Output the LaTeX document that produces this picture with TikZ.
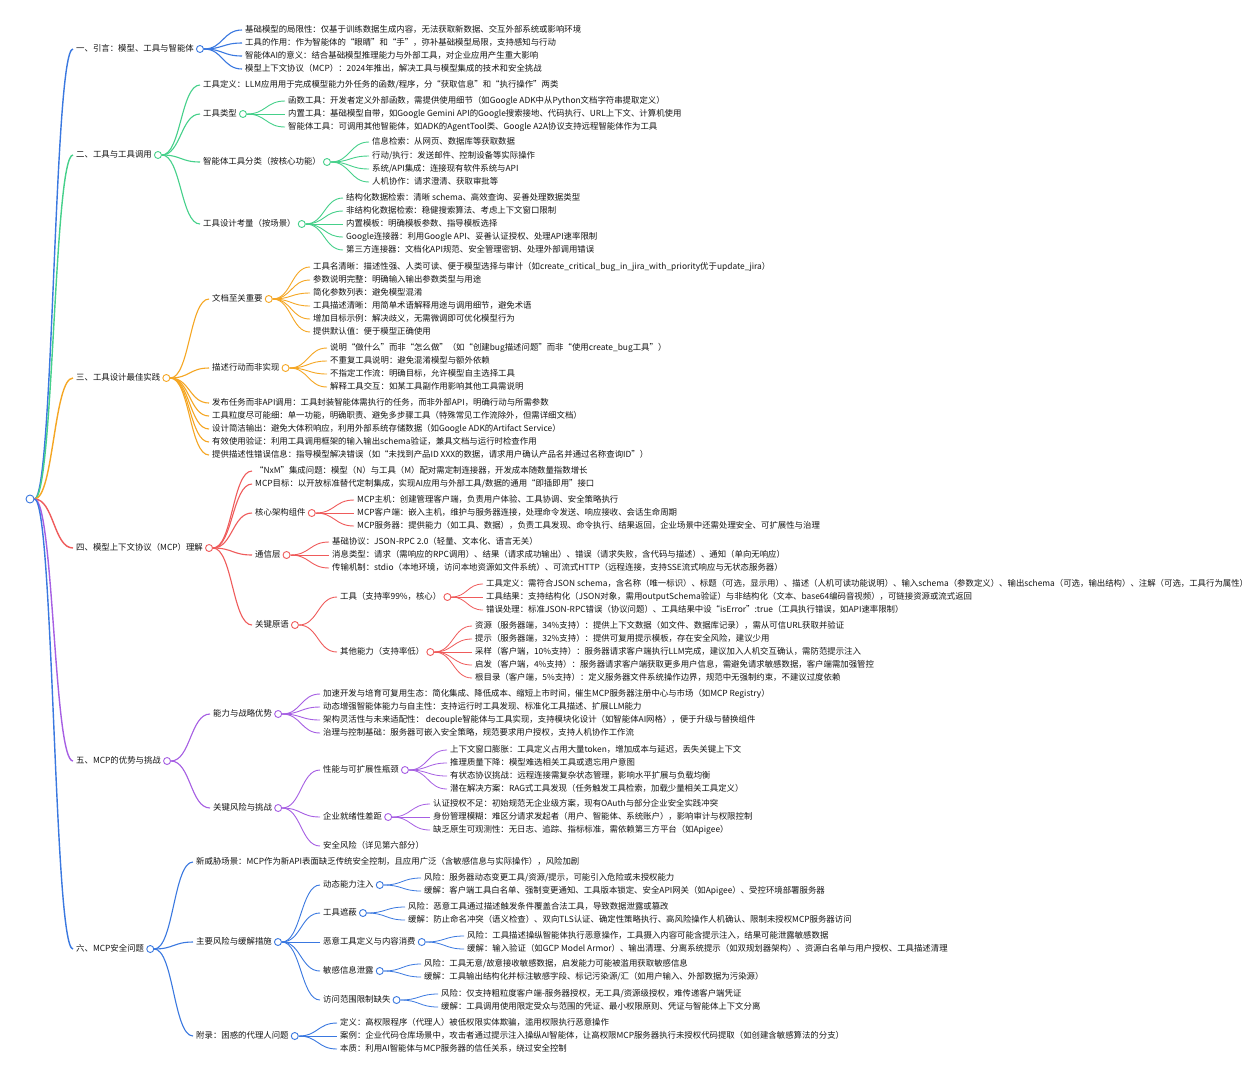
\documentclass[tikz,border=0pt]{standalone}
\usepackage{fontspec}
\setmainfont{Noto Sans CJK SC}
\usetikzlibrary{calc}
\definecolor{cA}{HTML}{3A78E0}
\definecolor{cB}{HTML}{45D08A}
\definecolor{cC}{HTML}{F5A623}
\definecolor{cD}{HTML}{EF5B5B}
\definecolor{cE}{HTML}{A65FE3}
\definecolor{cF}{HTML}{3A78E0}
\definecolor{txt}{HTML}{151515}
\newcommand\mapfont{\fontsize{8.4pt}{10pt}\selectfont}
\pgfdeclarelayer{bg}
\pgfsetlayers{bg,main}
\begin{document}
\begin{tikzpicture}[x=1pt,y=-1pt,
  t/.style={anchor=west, inner xsep=3pt, inner ysep=1pt, xshift=-3pt, text height=7pt, text depth=2.6pt, font=\mapfont, text=txt},
  dot/.style={circle, draw=#1, fill=white, line width=0.9pt, minimum size=7pt, inner sep=0pt, anchor=west, xshift=-1pt},
  hl/.style={to path={let \p1=(\tikztostart), \p2=(\tikztotarget) in .. controls ({0.5*\x1+0.5*\x2},\y1) and ({0.5*\x1+0.5*\x2},\y2) .. (\tikztotarget)}},
  l1/.style={hl, line width=1.4pt, draw=#1},
  l2/.style={hl, line width=1.1pt, draw=#1},
  l3/.style={hl, line width=0.9pt, draw=#1},
  l4/.style={hl, line width=0.8pt, draw=#1}]
\begin{pgfonlayer}{bg}
\fill[white] (0,0) rectangle (1258,1080);
\end{pgfonlayer}
\useasboundingbox (0,0) rectangle (1258,1080);

% root
\node[dot=cA, anchor=center, xshift=0pt, minimum size=8pt] (R) at (31,499) {};

% ---------- A ----------
\node[t] (A) at (76,49) {一、引言：模型、工具与智能体};
\node[dot=cA] (Ac) at (A.east) {};
\node[t] (A1) at (245,30) {基础模型的局限性：仅基于训练数据生成内容，无法获取新数据、交互外部系统或影响环境};
\node[t] (A2) at (245,43) {工具的作用：作为智能体的“眼睛”和“手”，弥补基础模型局限，支持感知与行动};
\node[t] (A3) at (245,56) {智能体AI的意义：结合基础模型推理能力与外部工具，对企业应用产生重大影响};
\node[t] (A4) at (245,69) {模型上下文协议（MCP）：2024年推出，解决工具与模型集成的技术和安全挑战};

% ---------- B ----------
\node[t] (B) at (76,155) {二、工具与工具调用};
\node[dot=cB] (Bc) at (B.east) {};
\node[t] (B1) at (203,85) {工具定义：LLM应用用于完成模型能力外任务的函数/程序，分“获取信息”和“执行操作”两类};
\node[t] (B2) at (203,114) {工具类型};
\node[dot=cB] (B2c) at (B2.east) {};
\node[t] (B21) at (288,101) {函数工具：开发者定义外部函数，需提供使用细节（如Google ADK中从Python文档字符串提取定义）};
\node[t] (B22) at (288,114) {内置工具：基础模型自带，如Google Gemini API的Google搜索接地、代码执行、URL上下文、计算机使用};
\node[t] (B23) at (288,127) {智能体工具：可调用其他智能体，如ADK的AgentTool类、Google A2A协议支持远程智能体作为工具};
\node[t] (B3) at (203,162) {智能体工具分类（按核心功能）};
\node[dot=cB] (B3c) at (B3.east) {};
\node[t] (B31) at (372,142) {信息检索：从网页、数据库等获取数据};
\node[t] (B32) at (372,156) {行动/执行：发送邮件、控制设备等实际操作};
\node[t] (B33) at (372,169) {系统/API集成：连接现有软件系统与API};
\node[t] (B34) at (372,182) {人机协作：请求澄清、获取审批等};
\node[t] (B4) at (203,224) {工具设计考量（按场景）};
\node[dot=cB] (B4c) at (B4.east) {};
\node[t] (B41) at (346,198) {结构化数据检索：清晰 schema、高效查询、妥善处理数据类型};
\node[t] (B42) at (346,211) {非结构化数据检索：稳健搜索算法、考虑上下文窗口限制};
\node[t] (B43) at (346,224) {内置模板：明确模板参数、指导模板选择};
\node[t] (B44) at (346,237) {Google连接器：利用Google API、妥善认证授权、处理API速率限制};
\node[t] (B45) at (346,250) {第三方连接器：文档化API规范、安全管理密钥、处理外部调用错误};

% ---------- C ----------
\node[t] (C) at (76,378) {三、工具设计最佳实践};
\node[dot=cC] (Cc) at (C.east) {};
\node[t] (C1) at (212,299) {文档至关重要};
\node[dot=cC] (C1c) at (C1.east) {};
\node[t] (C11) at (313,267) {工具名清晰：描述性强、人类可读、便于模型选择与审计（如create\_critical\_bug\_in\_jira\_with\_priority优于update\_jira）};
\node[t] (C12) at (313,280) {参数说明完整：明确输入输出参数类型与用途};
\node[t] (C13) at (313,293) {简化参数列表：避免模型混淆};
\node[t] (C14) at (313,306) {工具描述清晰：用简单术语解释用途与调用细节，避免术语};
\node[t] (C15) at (313,319) {增加目标示例：解决歧义，无需微调即可优化模型行为};
\node[t] (C16) at (313,332) {提供默认值：便于模型正确使用};
\node[t] (C2) at (212,368) {描述行动而非实现};
\node[dot=cC] (C2c) at (C2.east) {};
\node[t] (C21) at (330,348) {说明“做什么”而非“怎么做”（如“创建bug描述问题”而非“使用create\_bug工具”）};
\node[t] (C22) at (330,361) {不重复工具说明：避免混淆模型与额外依赖};
\node[t] (C23) at (330,374) {不指定工作流：明确目标，允许模型自主选择工具};
\node[t] (C24) at (330,387) {解释工具交互：如某工具副作用影响其他工具需说明};
\node[t] (C3) at (212,403) {发布任务而非API调用：工具封装智能体需执行的任务，而非外部API，明确行动与所需参数};
\node[t] (C4) at (212,416) {工具粒度尽可能细：单一功能，明确职责、避免多步骤工具（特殊常见工作流除外，但需详细文档）};
\node[t] (C5) at (212,429) {设计简洁输出：避免大体积响应，利用外部系统存储数据（如Google ADK的Artifact Service）};
\node[t] (C6) at (212,442) {有效使用验证：利用工具调用框架的输入输出schema验证，兼具文档与运行时检查作用};
\node[t] (C7) at (212,455) {提供描述性错误信息：指导模型解决错误（如“未找到产品ID XXX的数据，请求用户确认产品名并通过名称查询ID”）};

% ---------- D ----------
\node[t] (D) at (76,548) {四、模型上下文协议（MCP）理解};
\node[dot=cD] (Dc) at (D.east) {};
\node[t] (D1) at (255,471) {“NxM”集成问题：模型（N）与工具（M）配对需定制连接器，开发成本随数量指数增长};
\node[t] (D2) at (255,484) {MCP目标：以开放标准替代定制集成，实现AI应用与外部工具/数据的通用“即插即用”接口};
\node[t] (D3) at (255,513) {核心架构组件};
\node[dot=cD] (D3c) at (D3.east) {};
\node[t] (D31) at (357,500) {MCP主机：创建管理客户端，负责用户体验、工具协调、安全策略执行};
\node[t] (D32) at (357,513) {MCP客户端：嵌入主机，维护与服务器连接，处理命令发送、响应接收、会话生命周期};
\node[t] (D33) at (357,526) {MCP服务器：提供能力（如工具、数据），负责工具发现、命令执行、结果返回，企业场景中还需处理安全、可扩展性与治理};
\node[t] (D4) at (255,555) {通信层};
\node[dot=cD] (D4c) at (D4.east) {};
\node[t] (D41) at (332,542) {基础协议：JSON-RPC 2.0（轻量、文本化、语言无关）};
\node[t] (D42) at (332,555) {消息类型：请求（需响应的RPC调用）、结果（请求成功输出）、错误（请求失败，含代码与描述）、通知（单向无响应）};
\node[t] (D43) at (332,568) {传输机制：stdio（本地环境，访问本地资源如文件系统）、可流式HTTP（远程连接，支持SSE流式响应与无状态服务器）};
\node[t] (D5) at (255,625) {关键原语};
\node[dot=cD] (D5c) at (D5.east) {};
\node[t] (D51) at (340,597) {工具（支持率99\%，核心）};
\node[dot=cD] (D51c) at (D51.east) {};
\node[t] (D511) at (486,584) {工具定义：需符合JSON schema，含名称（唯一标识）、标题（可选，显示用）、描述（人机可读功能说明）、输入schema（参数定义）、输出schema（可选，输出结构）、注解（可选，工具行为属性）};
\node[t] (D512) at (486,597) {工具结果：支持结构化（JSON对象，需用outputSchema验证）与非结构化（文本、base64编码音视频），可链接资源或流式返回};
\node[t] (D513) at (486,610) {错误处理：标准JSON-RPC错误（协议问题）、工具结果中设“isError”:true（工具执行错误，如API速率限制）};
\node[t] (D52) at (340,652) {其他能力（支持率低）};
\node[dot=cD] (D52c) at (D52.east) {};
\node[t] (D521) at (475,626) {资源（服务器端，34\%支持）：提供上下文数据（如文件、数据库记录），需从可信URL获取并验证};
\node[t] (D522) at (475,639) {提示（服务器端，32\%支持）：提供可复用提示模板，存在安全风险，建议少用};
\node[t] (D523) at (475,652) {采样（客户端，10\%支持）：服务器请求客户端执行LLM完成，建议加入人机交互确认，需防范提示注入};
\node[t] (D524) at (475,665) {启发（客户端，4\%支持）：服务器请求客户端获取更多用户信息，需避免请求敏感数据，客户端需加强管控};
\node[t] (D525) at (475,678) {根目录（客户端，5\%支持）：定义服务器文件系统操作边界，规范中无强制约束，不建议过度依赖};

% ---------- E ----------
\node[t] (E) at (76,761) {五、MCP的优势与挑战};
\node[dot=cE] (Ec) at (E.east) {};
\node[t] (E1) at (213,714) {能力与战略优势};
\node[dot=cE] (E1c) at (E1.east) {};
\node[t] (E11) at (323,694) {加速开发与培育可复用生态：简化集成、降低成本、缩短上市时间，催生MCP服务器注册中心与市场（如MCP Registry）};
\node[t] (E12) at (323,707) {动态增强智能体能力与自主性：支持运行时工具发现、标准化工具描述、扩展LLM能力};
\node[t] (E13) at (323,720) {架构灵活性与未来适配性： decouple智能体与工具实现，支持模块化设计（如智能体AI网格），便于升级与替换组件};
\node[t] (E14) at (323,733) {治理与控制基础：服务器可嵌入安全策略，规范要求用户授权，支持人机协作工作流};
\node[t] (E2) at (213,808) {关键风险与挑战};
\node[dot=cE] (E2c) at (E2.east) {};
\node[t] (E21) at (323,770) {性能与可扩展性瓶颈};
\node[dot=cE] (E21c) at (E21.east) {};
\node[t] (E211) at (450,750) {上下文窗口膨胀：工具定义占用大量token，增加成本与延迟，丢失关键上下文};
\node[t] (E212) at (450,763) {推理质量下降：模型难选相关工具或遗忘用户意图};
\node[t] (E213) at (450,776) {有状态协议挑战：远程连接需复杂状态管理，影响水平扩展与负载均衡};
\node[t] (E214) at (450,789) {潜在解决方案：RAG式工具发现（任务触发工具检索，加载少量相关工具定义）};
\node[t] (E22) at (323,817) {企业就绪性差距};
\node[dot=cE] (E22c) at (E22.east) {};
\node[t] (E221) at (433,804) {认证授权不足：初始规范无企业级方案，现有OAuth与部分企业安全实践冲突};
\node[t] (E222) at (433,817) {身份管理模糊：难区分请求发起者（用户、智能体、系统账户），影响审计与权限控制};
\node[t] (E223) at (433,830) {缺乏原生可观测性：无日志、追踪、指标标准，需依赖第三方平台（如Apigee）};
\node[t] (E23) at (323,846) {安全风险（详见第六部分）};

% ---------- F ----------
\node[t] (F) at (76,949) {六、MCP安全问题};
\node[dot=cF] (Fc) at (F.east) {};
\node[t] (F1) at (196,862) {新威胁场景：MCP作为新API表面缺乏传统安全控制，且应用广泛（含敏感信息与实际操作），风险加剧};
\node[t] (F2) at (196,942) {主要风险与缓解措施};
\node[dot=cF] (F2c) at (F2.east) {};
\node[t] (F21) at (323,885) {动态能力注入};
\node[dot=cF] (F21c) at (F21.east) {};
\node[t] (F211) at (424,878) {风险：服务器动态变更工具/资源/提示，可能引入危险或未授权能力};
\node[t] (F212) at (424,891) {缓解：客户端工具白名单、强制变更通知、工具版本锁定、安全API网关（如Apigee）、受控环境部署服务器};
\node[t] (F22) at (323,913) {工具遮蔽};
\node[dot=cF] (F22c) at (F22.east) {};
\node[t] (F221) at (408,907) {风险：恶意工具通过描述触发条件覆盖合法工具，导致数据泄露或篡改};
\node[t] (F222) at (408,920) {缓解：防止命名冲突（语义检查）、双向TLS认证、确定性策略执行、高风险操作人机确认、限制未授权MCP服务器访问};
\node[t] (F23) at (323,942) {恶意工具定义与内容消费};
\node[dot=cF] (F23c) at (F23.east) {};
\node[t] (F231) at (467,936) {风险：工具描述操纵智能体执行恶意操作，工具摄入内容可能含提示注入，结果可能泄露敏感数据};
\node[t] (F232) at (467,949) {缓解：输入验证（如GCP Model Armor）、输出清理、分离系统提示（如双规划器架构）、资源白名单与用户授权、工具描述清理};
\node[t] (F24) at (323,971) {敏感信息泄露};
\node[dot=cF] (F24c) at (F24.east) {};
\node[t] (F241) at (424,964) {风险：工具无意/故意接收敏感数据，启发能力可能被滥用获取敏感信息};
\node[t] (F242) at (424,977) {缓解：工具输出结构化并标注敏感字段、标记污染源/汇（如用户输入、外部数据为污染源）};
\node[t] (F25) at (323,1000) {访问范围限制缺失};
\node[dot=cF] (F25c) at (F25.east) {};
\node[t] (F251) at (441,994) {风险：仅支持粗粒度客户端-服务器授权，无工具/资源级授权，难传递客户端凭证};
\node[t] (F252) at (441,1007) {缓解：工具调用使用限定受众与范围的凭证、最小权限原则、凭证与智能体上下文分离};
\node[t] (F3) at (196,1036) {附录：困惑的代理人问题};
\node[dot=cF] (F3c) at (F3.east) {};
\node[t] (F31) at (340,1023) {定义：高权限程序（代理人）被低权限实体欺骗，滥用权限执行恶意操作};
\node[t] (F32) at (340,1036) {案例：企业代码仓库场景中，攻击者通过提示注入操纵AI智能体，让高权限MCP服务器执行未授权代码提取（如创建含敏感算法的分支）};
\node[t] (F33) at (340,1049) {本质：利用AI智能体与MCP服务器的信任关系，绕过安全控制};

% ---------- links ----------
\begin{pgfonlayer}{bg}
\draw[l1=cA] (R.east) to (A.west);
\draw[l1=cB] (R.east) to (B.west);
\draw[l1=cC] (R.east) to (C.west);
\draw[l1=cD] (R.east) to (D.west);
\draw[l1=cE] (R.east) to (E.west);
\draw[l1=cF] (R.east) to (F.west);

\foreach \k in {A1,A2,A3,A4} \draw[l2=cA] (Ac.east) to (\k.west);

\foreach \k in {B1,B2,B3,B4} \draw[l2=cB] (Bc.east) to (\k.west);
\foreach \k in {B21,B22,B23} \draw[l3=cB] (B2c.east) to (\k.west);
\foreach \k in {B31,B32,B33,B34} \draw[l3=cB] (B3c.east) to (\k.west);
\foreach \k in {B41,B42,B43,B44,B45} \draw[l3=cB] (B4c.east) to (\k.west);

\foreach \k in {C1,C2,C3,C4,C5,C6,C7} \draw[l2=cC] (Cc.east) to (\k.west);
\foreach \k in {C11,C12,C13,C14,C15,C16} \draw[l3=cC] (C1c.east) to (\k.west);
\foreach \k in {C21,C22,C23,C24} \draw[l3=cC] (C2c.east) to (\k.west);

\foreach \k in {D1,D2,D3,D4,D5} \draw[l2=cD] (Dc.east) to (\k.west);
\foreach \k in {D31,D32,D33} \draw[l3=cD] (D3c.east) to (\k.west);
\foreach \k in {D41,D42,D43} \draw[l3=cD] (D4c.east) to (\k.west);
\foreach \k in {D51,D52} \draw[l3=cD] (D5c.east) to (\k.west);
\foreach \k in {D511,D512,D513} \draw[l4=cD] (D51c.east) to (\k.west);
\foreach \k in {D521,D522,D523,D524,D525} \draw[l4=cD] (D52c.east) to (\k.west);

\foreach \k in {E1,E2} \draw[l2=cE] (Ec.east) to (\k.west);
\foreach \k in {E11,E12,E13,E14} \draw[l3=cE] (E1c.east) to (\k.west);
\foreach \k in {E21,E22,E23} \draw[l3=cE] (E2c.east) to (\k.west);
\foreach \k in {E211,E212,E213,E214} \draw[l4=cE] (E21c.east) to (\k.west);
\foreach \k in {E221,E222,E223} \draw[l4=cE] (E22c.east) to (\k.west);

\foreach \k in {F1,F2,F3} \draw[l2=cF] (Fc.east) to (\k.west);
\foreach \k in {F21,F22,F23,F24,F25} \draw[l3=cF] (F2c.east) to (\k.west);
\foreach \k in {F211,F212} \draw[l4=cF] (F21c.east) to (\k.west);
\foreach \k in {F221,F222} \draw[l4=cF] (F22c.east) to (\k.west);
\foreach \k in {F231,F232} \draw[l4=cF] (F23c.east) to (\k.west);
\foreach \k in {F241,F242} \draw[l4=cF] (F24c.east) to (\k.west);
\foreach \k in {F251,F252} \draw[l4=cF] (F25c.east) to (\k.west);
\foreach \k in {F31,F32,F33} \draw[l3=cF] (F3c.east) to (\k.west);
\end{pgfonlayer}
\end{tikzpicture}
\end{document}
